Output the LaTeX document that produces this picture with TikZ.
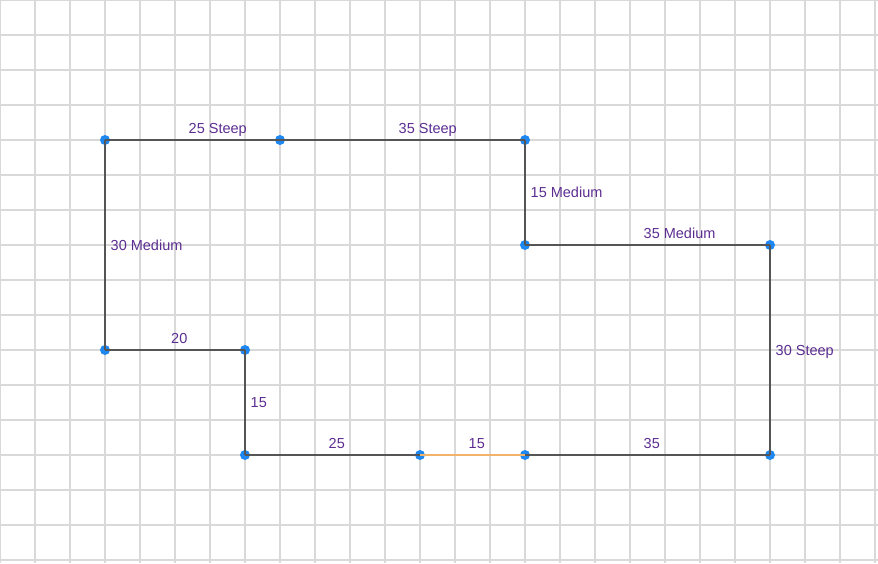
\documentclass[tikz,border=0pt]{standalone}
\usepackage{fontspec}
\setmainfont{Liberation Sans}
\definecolor{gridgray}{HTML}{D9D9D9}
\definecolor{wallgray}{HTML}{555555}
\definecolor{dotblue}{HTML}{1E88F0}
\definecolor{labelpurple}{HTML}{5C2D91}
\definecolor{openorange}{HTML}{F2B36A}
\begin{document}
\begin{tikzpicture}[
        x=1pt, y=-1pt,
        gridline/.style={draw=gridgray, line width=1.3pt},
        wall/.style={draw=wallgray, line width=1.4pt},
        openwall/.style={draw=openorange, line width=1.4pt},
        corner/.style={circle, fill=dotblue, inner sep=0pt, minimum size=10pt},
        hlabel/.style={midway, anchor=base west, inner sep=0pt, xshift=-4.5pt, yshift=7pt},
        vlabel/.style={midway, anchor=base west, inner sep=0pt, xshift=5pt, yshift=-5pt},
        every node/.style={text=labelpurple, font=\fontsize{14.5}{16}\selectfont}
    ]
    \useasboundingbox (0,0) rectangle (878,563);
    % background grid
    \foreach \gx in {0,35,...,875} \draw[gridline] (\gx,0) -- (\gx,563);
    \foreach \gy in {0,35,...,560} \draw[gridline] (0,\gy) -- (878,\gy);

    % corners of the outline
    \coordinate (a) at (105,140);
    \coordinate (b) at (280,140);
    \coordinate (c) at (525,140);
    \coordinate (d) at (525,245);
    \coordinate (e) at (770,245);
    \coordinate (f) at (770,455);
    \coordinate (g) at (525,455);
    \coordinate (h) at (420,455);
    \coordinate (i) at (245,455);
    \coordinate (j) at (245,350);
    \coordinate (k) at (105,350);

    % corner dots (lines go on top)
    \foreach \p in {a,b,c,d,e,f,g,h,i,j,k} \node[corner] (dot-\p) at (\p) {};

    \draw[wall] (a) -- node[hlabel] {25 Steep} (b);
    \draw[wall] (b) -- node[hlabel] {35 Steep} (c);
    \draw[wall] (c) -- node[vlabel] {15 Medium} (d);
    \draw[wall] (d) -- node[hlabel] {35 Medium} (e);
    \draw[wall] (e) -- node[vlabel] {30 Steep} (f);
    \draw[wall] (g) -- node[hlabel] {35} (f);
    \draw[openwall] (h) -- node[hlabel] {15} (g);
    \draw[wall] (i) -- node[hlabel] {25} (h);
    \draw[wall] (j) -- node[vlabel] {15} (i);
    \draw[wall] (k) -- node[hlabel] {20} (j);
    \draw[wall] (a) -- node[vlabel] {30 Medium} (k);
\end{tikzpicture}
\end{document}
